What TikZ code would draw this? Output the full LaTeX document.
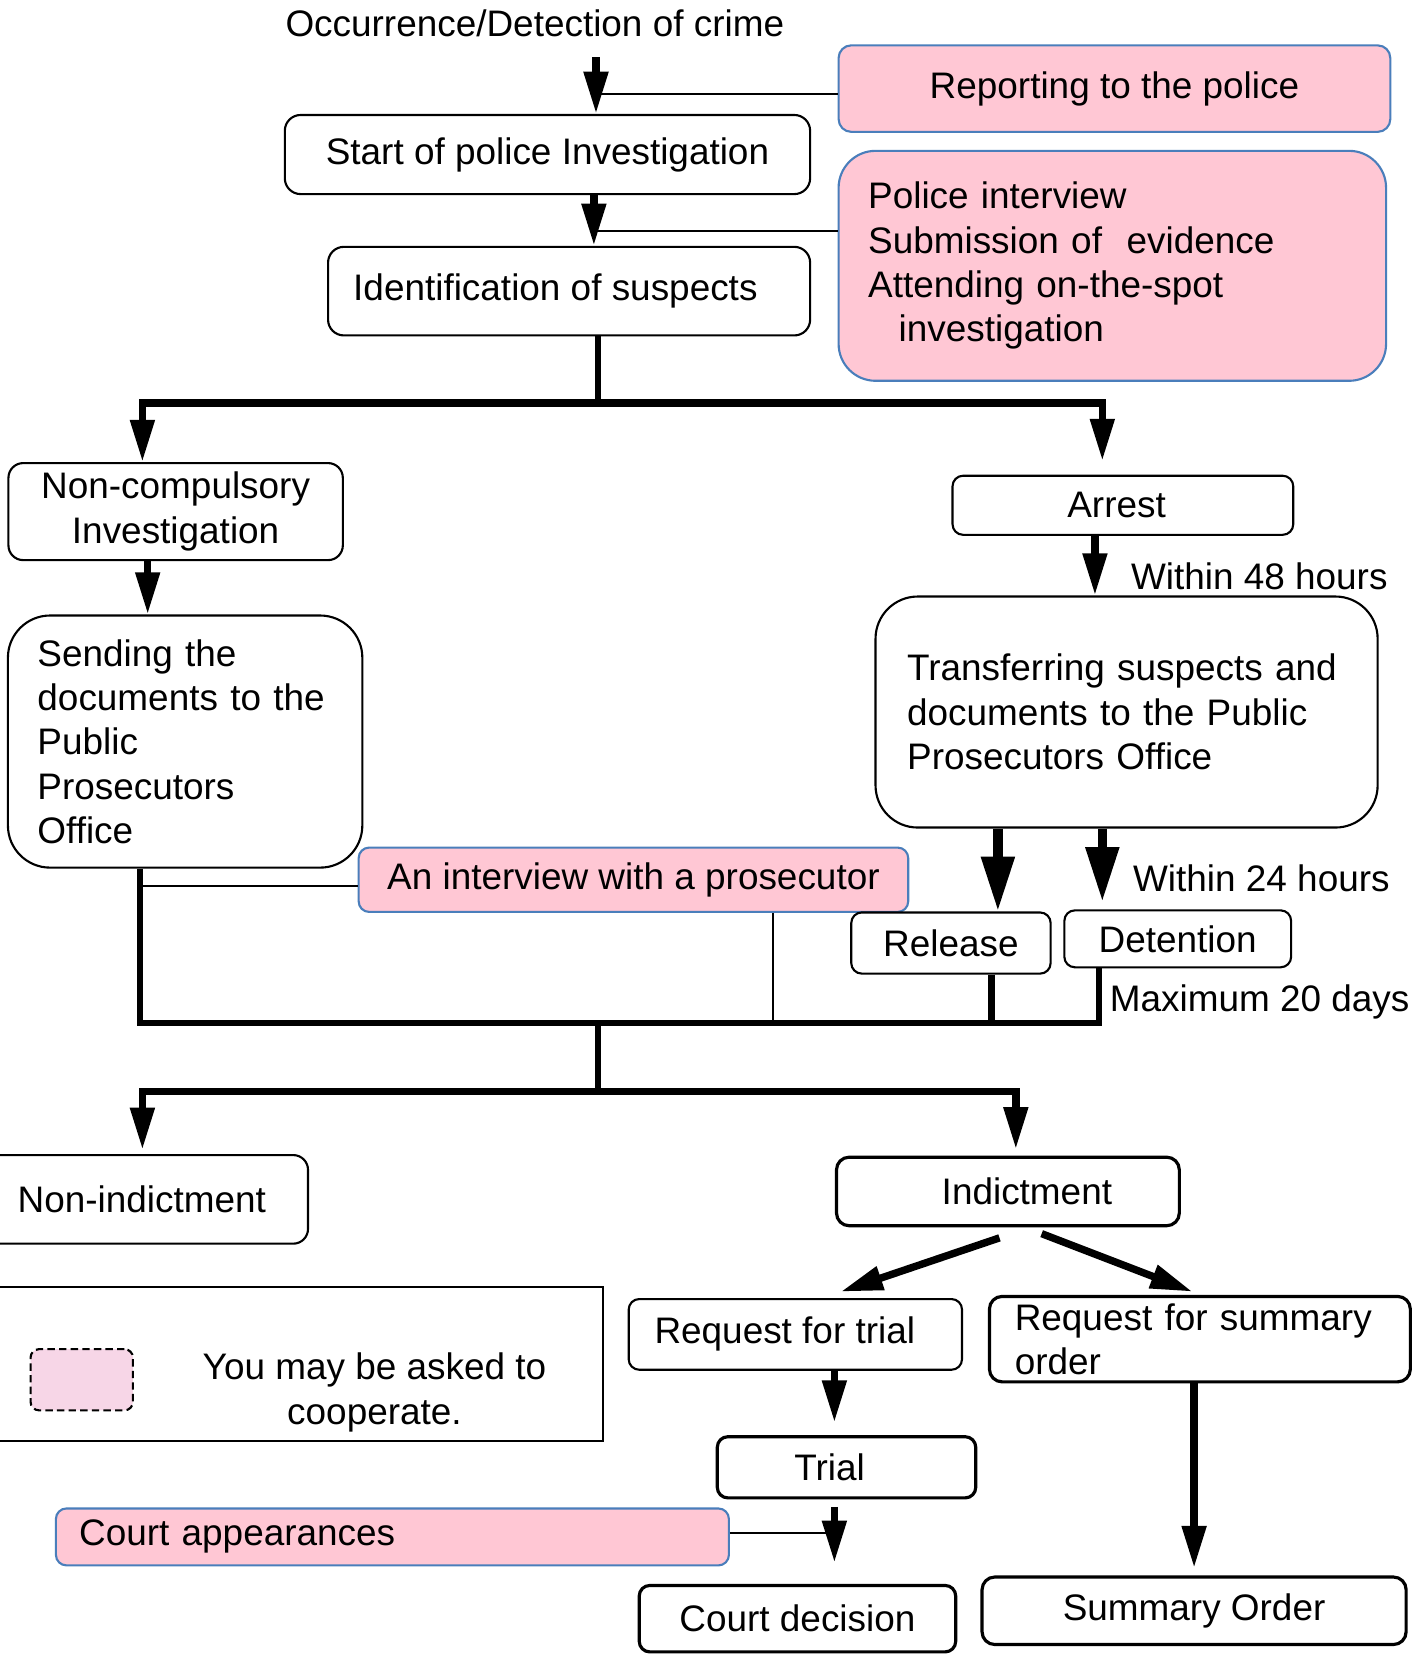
\documentclass[tikz,border=0pt]{standalone}
\usepackage{fontspec}
\setmainfont{Liberation Sans}
\usetikzlibrary{arrows.meta,positioning,calc}

\definecolor{cooppink}{RGB}{255,199,212}
\definecolor{coopedge}{RGB}{74,126,187}
\definecolor{legendpink}{RGB}{247,214,231}

\begin{document}
\begin{tikzpicture}[x=1pt,y=1pt,yscale=-1,
    every node/.style={font=\fontsize{35}{42}\selectfont},
    stage/.style={draw=black, line width=2, rounded corners=#1, inner sep=0pt, align=center},
    stage/.default=14,
    coop/.style={stage=#1, fill=cooppink, draw=coopedge},
    coop/.default=12,
    flow/.style={line width=7, -{Triangle[length=40pt,width=22pt]}},
    wideflow/.style={line width=9, -{Triangle[length=52pt,width=30pt]}},
    bus/.style={line width=6},
    tie/.style={line width=1.5},
    note/.style={anchor=west, inner sep=0pt}]
    \useasboundingbox (0,0) rectangle (1338,1568);

    % Text Node
    \node (crime) at (507,22) {Occurrence/Detection of crime};

    % police stage
    \node (report) [coop, minimum width=523, minimum height=82] at (1056.5,84) {Reporting to the police};
    \node (start) [stage=15, minimum width=498, minimum height=75] at (519,146.5) {Start of police Investigation};
    \node (pint) [coop=35, minimum width=519, minimum height=218, text width=463, inner xsep=28, align=left] at (1054.5,252)
        {Police interview\\Submission of\ \ evidence\\Attending on-the-spot\\\hspace*{29pt}investigation};
    \node (ident) [stage=15, minimum width=457, minimum height=84] at (539.5,276) {Identification of suspects\hspace*{26pt}};

    % two ways
    \node (noncomp) [stage=14, minimum width=317, minimum height=92] at (166.5,485) {Non-compulsory\\Investigation};
    \node (sending) [stage=40, minimum width=333, minimum height=239, text width=280, inner xsep=28, align=left] at (175.5,703)
        {Sending the\\documents to the\\Public\\Prosecutors\\Office};
    \node (arrest) [stage=10, minimum width=323, minimum height=56] at (1064.5,479) {Arrest\hspace*{12pt}};
    \node (transfer) [stage=40, minimum width=476, minimum height=219, text width=416, inner xsep=30, align=left] at (1068,675)
        {Transferring suspects and\\documents to the Public\\Prosecutors Office};
    \node (prosint) [coop=10, minimum width=521, minimum height=61] at (600.5,834) {An interview with a prosecutor};
    \node (release) [stage=10, minimum width=189, minimum height=58] at (901.5,894) {Release};
    \node (detention) [stage=10, minimum width=215, minimum height=54] at (1116.5,890) {Detention};

    % Text Node
    \node (h48) [note] at (1072,546) {Within 48 hours};
    \node (h24) [note] at (1074,833) {Within 24 hours};
    \node (d20) [note] at (1052,950) {Maximum 20 days};

    % decision
    \node (nonind) [stage=14, minimum width=315, minimum height=84] at (134.5,1137) {Non-indictment};
    \node (indict) [stage=12, line width=3, minimum width=325, minimum height=65] at (955.5,1129.5) {\hspace*{36pt}Indictment};
    \node (reqtrial) [stage=10, minimum width=316, minimum height=67] at (754,1265) {Request for trial\hspace*{20pt}};
    \node (reqsum) [stage=12, line width=3, minimum width=399, minimum height=81, text width=351, inner xsep=24, align=left] at (1137.5,1269.5)
        {Request for summary\\order};
    \node (trial) [stage=10, line width=3, minimum width=245, minimum height=58] at (802.5,1391) {Trial\hspace*{32pt}};
    \node (courtapp) [coop=10, minimum width=638, minimum height=54, text width=594, inner xsep=22, align=left] at (372,1457) {Court appearances};
    \node (decision) [stage=10, line width=3, minimum width=300, minimum height=63] at (756,1534.5) {Court decision};
    \node (summary) [stage=12, line width=3, minimum width=402, minimum height=64] at (1132,1527) {Summary Order};

    % legend
    \node (legend) [draw, line width=2, minimum width=574, minimum height=146] at (285,1293) {};
    \node (sample) [draw, dash pattern=on 7pt off 4pt, line width=2, rounded corners=8, fill=legendpink, minimum width=97, minimum height=58] at (77.5,1308) {};
    \node (legendtext) [align=center] at (355,1320) {You may be asked to\\cooperate.};

    % columns of the connectors
    \coordinate (a1) at (565,89);
    \coordinate (a2) at (563,219);
    \coordinate (b1) at (567,382);
    \coordinate (b1l) at (135,382);
    \coordinate (b1r) at (1045,382);
    \coordinate (a3) at (140,555);
    \coordinate (k1) at (1038,535);
    \coordinate (k2) at (946,820);
    \coordinate (k3) at (1045,820);
    \coordinate (m1) at (133,970);
    \coordinate (m2) at (1042,970);
    \coordinate (m3) at (940,970);
    \coordinate (m4) at (733,970);
    \coordinate (d1) at (567,1035);
    \coordinate (d1l) at (135,1035);
    \coordinate (d1r) at (963,1035);
    \coordinate (t1) at (791,1400);

    %Straight Lines
    \draw [flow, shorten <=16] (crime.south -| a1) -- (start.north -| a1);
    \draw [tie] (report.west |- a1) -- (a1);
    \draw [flow] (start.south -| a2) -- (ident.north -| a2);
    \draw [tie] (pint.west |- a2) -- (a2);

    \draw [bus] (ident.south -| b1) -- (b1);
    \draw [flow] (b1) -| (noncomp.north -| b1l);
    \draw [flow] (b1) -| ([yshift=-13pt]arrest.north -| b1r);

    \draw [flow] (noncomp.south -| a3) -- (sending.north -| a3);
    \draw [flow] (arrest.south -| k1) -- (transfer.north -| k1);
    \draw [wideflow] (transfer.south -| k2) -- (release.north -| k2);
    \draw [wideflow] (transfer.south -| k3) -- ([yshift=-7pt]detention.north -| k3);

    \draw [bus] (sending.south -| m1) -- (m1) -- (m2) -- (detention.south -| m2);
    \draw [bus] (release.south -| m3) -- (m3);
    \draw [tie] (prosint.south -| m4) -- (m4);
    \draw [tie] ([yshift=6pt]prosint.west) -- ([yshift=6pt]prosint.west -| m1);

    \draw [bus] (m1 -| d1) -- (d1);
    \draw [flow] (d1) -| ([yshift=-4pt]nonind.north -| d1l);
    \draw [flow] (d1) -| ([yshift=-6pt]indict.north -| d1r);

    \draw [flow] ([xshift=-8pt,yshift=10pt]indict.south) -- ([xshift=43pt,yshift=-6pt]reqtrial.north);
    \draw [flow] ([xshift=32pt,yshift=6pt]indict.south) -- ([xshift=-7pt,yshift=-3pt]reqsum.north);
    \draw [flow] (reqtrial.south -| t1) -- ([yshift=-12pt]trial.north -| t1);
    \draw [flow, shorten <=7] (trial.south -| t1) -- ([yshift=-20pt]decision.north -| t1);
    \draw [tie] ([yshift=-4pt]courtapp.east) -- ([yshift=-4pt]courtapp.east -| t1);
    \draw [flow] (reqsum.south -| summary.north) -- ([yshift=-7pt]summary.north);

\end{tikzpicture}
\end{document}
